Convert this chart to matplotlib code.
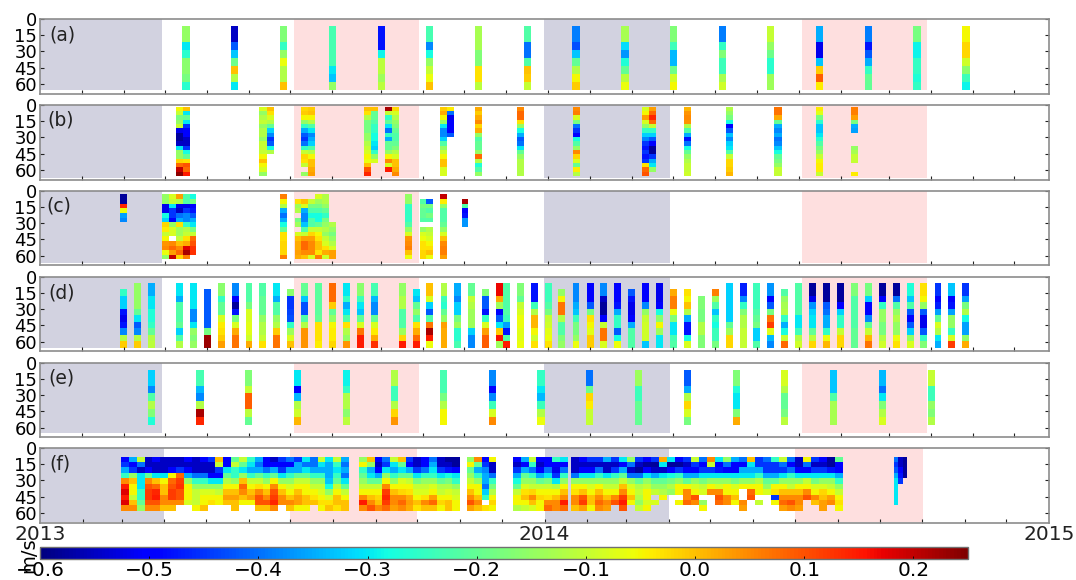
import numpy as np
import matplotlib
matplotlib.use("Agg")
import matplotlib.pyplot as plt
from matplotlib.cm import ScalarMappable
from matplotlib.colors import Normalize

n = np.nan

# all velocities below are in cm/s (divided by 100 when drawn), time in days since 2013-01-01
# panel (a)
a_days = [105.6, 141, 176.1, 211.5, 246.9, 282, 317.2, 352.6, 387.8, 423.2, 458.3, 493.7, 528.8, 564, 599.4, 634.5, 669.9]
a_vals = [
    [-15, -15, -30, -26, -16, -16, -18, -26],
    [-55, -55, -42, -33, -19, 0, -12, -30],
    [-17, -17, -25, -15, -6, -12, -12, 0],
    [-23, -23, -23, -23, -23, -30, -33, -15],
    [-48, -48, -48, -29, -11, -11, -14, -11],
    [-23, -23, -38, -28, -15, -10, -6, 0],
    [-13, -13, -13, -17, -17, -3, -3, -11],
    [-22, -22, -40, -40, -22, 0, -1, -10],
    [-39, -39, -43, -33, -20, -12, -5, -1],
    [-13, -13, -31, -37, -27, -20, -11, -6],
    [-17, -17, -24, -34, -34, -19, -9, -5],
    [-39, -39, -25, -17, -24, -24, -13, -9],
    [-10, -10, -15, -19, -26, -26, -14, -14],
    [-35, -35, -52, -52, -33, -1, 9, -4],
    [-39, -39, -48, -42, -35, -25, -20, -20],
    [-18, -18, -29, -29, -25, -25, -27, -25],
    [-5, -5, -2, -2, -9, -16, -24, -29],
]

# panel (b)
b_days = [100.7, 106, 161.3, 166.6, 191.2, 196.4, 237.1, 242, 252, 257.2, 292.1, 297.1, 317.3, 347.4,
          387.9, 438.2, 443.2, 468.6, 498.8, 533.9, 564.1, 589.3]
b_vals = [
    [-5, -10, -18, -15, -10, -52, -58, -58, -55, -30, -15, -15, -2, 8, 20, 24],
    [0, -30, -20, -30, -45, -50, -50, -55, -55, -45, -28, -20, -3, 10, 8, 15],
    [-8, -15, -12, -10, -15, -12, -12, -15, -10, -10, -10, -5, 0, -5, -8, -15],
    [0, -3, -8, -12, -20, -32, -38, -45, -42, -28, -12, n, n, n, n, n],
    [-2, -1, -5, -15, -25, -35, -42, -45, -40, -25, -10, -2, -3, -10, n, -15],
    [-1, 0, -5, -12, -22, -30, -38, -35, -32, -22, -12, -5, 0, 0, 2, 3],
    [0, -3, -12, -18, -18, -18, -15, -15, -12, -10, -8, -5, -6, 0, 10, 14],
    [0, -20, -20, -22, -25, -25, -28, -28, -30, -32, -25, -15, -8, n, n, n],
    [22, -10, -25, -20, -30, -40, -25, -35, -20, -20, -15, -5, 5, -8, 15, n],
    [-2, -8, -12, -15, -17, -20, -22, -22, -20, -17, -12, -8, 0, 0, 2, 5],
    [-1, 2, -5, -15, -30, -38, -38, -32, -22, -15, -10, -5, 0, 0, -8, -8],
    [-4, -40, -52, -50, -50, -50, -42, n, n, n, n, n, n, n, n, n],
    [2, -1, 2, 5, -2, 2, -15, -22, -20, -20, -15, 8, -12, -27, -22, -15],
    [5, 8, 8, -3, -15, -28, -35, -42, -40, -30, -20, -15, -12, -12, -12, -12],
    [5, 6, -8, -18, -40, -45, -50, -28, -22, -15, 5, -2, -8, -20, -4, -12],
    [-8, -5, 3, -8, -15, -25, -32, -38, -45, -48, -45, -48, -45, -3, 8, 10],
    [3, 8, 14, 8, -10, -25, -32, -42, -50, -58, -58, -45, -35, -30, -15, n],
    [1, 4, 5, 4, -12, -22, -35, -48, -40, -28, -20, -15, -12, -10, -10, -9],
    [-12, -15, -18, -28, -50, -42, -33, -38, -32, -30, -22, -10, -2, -2, -1, 1],
    [7, 7, 2, -20, -35, -38, -35, -40, -38, -33, -28, -20, -18, -15, -10, -10],
    [-4, -7, -18, -26, -33, -33, -30, -26, -22, -18, -15, -10, -5, -4, -4, -10],
    [6, 6, 3, -18, -35, -36, n, n, n, -15, -13, -10, -10, n, n, -4],
]

# panel (c)
c_days = [60.3, 90.7, 95.7, 100.7, 105.7, 110.7, 176.2, 186.7, 191.6, 196.6, 201.6, 206.6, 211.6,
          266.9, 277.1, 282.1, 292.1, 307.5]
c_vals = [
    [-58, -58, 14, -6, -36, -38, n, n, n, n, n, n, n, n],
    [-15, -15, -52, -52, -28, -32, -2, -4, -10, -5, 4, 5, -6, -15],
    [-8, -10, -30, -45, -45, -50, -15, -8, -8, n, 5, 8, 3, 20],
    [3, -12, -52, -55, -40, -35, -3, -14, -14, -10, 0, 5, 8, -2],
    [-22, -22, -52, -45, -38, -38, -25, -12, -10, -3, 2, 18, 22, 6],
    [-28, -18, -50, -48, -42, -35, -30, -18, -10, 8, 10, 13, 13, n],
    [6, -5, -12, -35, -40, -35, -28, -20, -3, -3, -2, -2, -2, 6],
    [n, -3, -14, -12, n, -18, -14, n, -8, 0, 2, 2, 3, 2],
    [n, 0, -8, -35, -38, -38, -33, -22, -10, 3, 8, 8, 5, 0],
    [n, -10, -18, -22, -28, -22, -22, -10, -2, 3, 5, 5, 5, -8],
    [-8, -14, -18, -22, -28, -28, -20, -10, -5, -3, 0, 0, -3, 6],
    [-12, -12, -15, -20, -25, -18, -15, -12, -15, -10, -8, -3, 2, -9],
    [n, n, n, n, n, n, -12, -15, -18, -15, -12, -8, 3, 3],
    [-15, -15, -25, -25, -25, -25, -22, -15, -8, 4, 5, 6, 0, -6],
    [n, -22, -18, -20, -20, -22, n, -15, -8, -6, -3, -3, -2, -2],
    [n, -42, -18, -22, -18, -22, n, -12, -10, -8, -5, -3, 0, -6],
    [20, -4, -15, -22, -22, -22, -20, -15, -8, 0, 5, 6, 6, 3],
    [n, 22, -22, -50, -48, -37, -37, n, n, n, n, n, n, n],
]

# panel (d)
d_days = [60.3, 70.5, 80.7, 100.6, 110.9, 121.1, 131, 141.3, 151.2, 161.2, 171.4, 181.4, 191.3, 201.6, 211.5,
          221.7, 231.7, 241.9, 262.1, 272.1, 282, 292.3, 302.2, 312.4, 322.4, 332.4, 337.6, 347.6, 357.6,
          367.6, 377.6, 387.8, 398, 408, 418, 428, 438, 448, 458.3, 468.5, 478.5, 488.5, 498.7, 508.7,
          518.6, 528.8, 538.8, 549, 559, 569.2, 579.2, 589.4, 599.4, 609.4, 619.6, 629.6, 639.5, 649.7,
          659.7, 669.6]
d_vals = [
    [n, -25, -32, -32, -48, -52, -48, -38, -12, -1],
    [-15, -15, -15, -15, -20, -30, -42, -38, -12, -1],
    [-35, -35, -30, -30, -27, -27, -25, -20, -12, -11],
    [-30, -30, -35, -22, -22, -22, -20, -32, -22, -12],
    [-30, -30, -30, -30, -38, -38, -30, -15, -17, -15],
    [n, -42, -42, -42, -42, -42, -42, -18, 23, 23],
    [-16, -16, -25, -20, -20, -8, -4, -3, -1, 3],
    [-38, -38, -50, -58, -48, -18, -8, 2, 7, 7],
    [-22, -22, -22, -18, -8, -8, -7, -7, -9, 2],
    [-22, -22, -20, -20, -20, -15, -12, -12, -10, -3],
    [-30, -30, -35, -22, -22, -15, -12, -1, 7, 7],
    [n, -16, -45, -45, -44, -43, -25, -14, -8, 0],
    [-20, -20, -33, -43, -43, -22, -12, 4, 4, 4],
    [-21, -21, -21, -21, -21, -20, -3, -3, -3, -4],
    [8, 8, 8, -1, -20, -15, -5, -4, -4, -2],
    [-30, -30, -25, -35, -30, -22, -3, -12, -15, 4],
    [-16, -16, -24, -30, -33, -20, -8, 7, 15, 15],
    [-23, -23, -34, -38, -38, -20, -8, -4, 2, 13],
    [-15, -15, -12, -12, -22, -22, -22, -14, -2, 15],
    [n, -30, -33, -20, -15, -22, -3, 2, 8, 15],
    [0, 0, -8, -32, -42, -22, 7, 22, 15, -6],
    [-12, -12, -24, -26, -20, -15, 3, 2, 2, 2],
    [-35, -35, -38, -32, -32, -18, -14, -26, -26, -23],
    [-20, -20, -10, -12, -14, -14, -14, -32, -38, -38],
    [n, -17, -42, -42, -48, -25, -8, 3, 9, 9],
    [17, 17, 2, -14, -50, -42, -30, -1, 16, -14],
    [-22, -22, -22, -22, -22, -24, -36, -48, -22, 15],
    [-17, -17, -20, -10, -8, -6, -6, -7, -7, -6],
    [-48, -48, -48, -24, -12, 1, 1, -5, -9, -3],
    [-24, -24, -24, -22, -18, -10, -9, -7, -6, -3],
    [n, -15, -5, 7, 7, -12, -22, -22, -17, -15],
    [-38, -38, -38, -35, -33, -24, -18, -18, -15, -6],
    [-50, -50, -50, -42, -18, -3, -5, -7, -1, -1],
    [-38, -38, -55, -58, -58, -50, -10, 7, 7, -8],
    [-50, -50, -50, -48, -35, -25, -25, -42, -28, -6],
    [n, -42, -48, -52, -52, -50, -35, -22, -22, -22],
    [-50, -50, -50, -38, -15, -10, -9, -9, -9, -33],
    [-52, -52, -52, -50, -28, -16, -5, -14, -30, -30],
    [n, 2, 6, 6, -6, -17, -30, -30, -23, -22],
    [n, -3, -5, 0, -12, -35, -48, -48, -28, -8],
    [n, n, -17, -17, -18, -18, -12, -12, -17, -17],
    [n, 6, -14, -22, -33, -25, -28, -24, -24, -18],
    [-32, -32, -32, -32, -32, -32, -20, -14, -2, -2],
    [-47, -47, -38, -25, -17, -12, -12, -10, -10, -10],
    [-24, -24, -24, -24, -22, -20, -18, -32, -32, -22],
    [-37, -37, -50, -42, -18, 7, 12, -7, -34, -38],
    [n, -22, -15, -13, -12, -25, -35, -28, -10, 8],
    [-22, -22, -22, -22, -22, -30, -30, -24, -12, -9],
    [-58, -58, -52, -37, -32, -30, -30, -20, -11, -2],
    [-58, -58, -58, -42, -40, -35, -35, -25, -6, 1],
    [-58, -58, -58, -50, -32, -25, -25, -10, -2, -2],
    [-17, -17, -22, -22, -22, -22, -22, -20, -20, -20],
    [-18, -18, -32, -50, -50, -38, -20, -10, 1, 7],
    [-58, -58, -50, -25, -15, -15, -18, -18, -12, -9],
    [-58, -58, -40, -22, -15, -12, -15, -15, -6, -3],
    [-27, -27, -33, -22, -42, -50, -42, -32, -15, -8],
    [-3, -3, -5, -15, -42, -52, -52, -42, -25, -17],
    [-45, -45, -50, -47, -36, -20, -8, -12, -30, -35],
    [-33, -33, -50, -48, -36, -15, -15, -25, -8, 12],
    [-45, -45, -36, -18, -12, -28, -36, -36, -16, 2],
]

# panel (e)
e_days = [80.7, 115.8, 151, 186.4, 221.5, 256.6, 292, 327.4, 362.4, 397.8, 433.2, 468.5, 503.7, 538.8, 574.2, 609.3, 644.7]
e_vals = [
    [-32, -32, -38, -22, -12, -17, -27],
    [-23, -23, -34, -38, -12, 22, 14],
    [-17, -17, -10, 9, 9, -11, -20],
    [-30, -30, -50, -34, -12, -9, 1],
    [-29, -29, -25, -12, -12, -16, -11],
    [-12, -12, -24, -24, -12, -2, 4],
    [-23, -23, -23, -18, -12, -5, -5],
    [-38, -38, -50, -38, -24, -8, 5],
    [-25, -25, -30, -34, -24, -12, -6],
    [-40, -40, -19, -2, -4, -10, -10],
    [-14, -14, -24, -24, -20, -20, -20],
    [-42, -42, -35, -12, -2, -8, -18],
    [-17, -17, -27, -30, -30, -17, 2],
    [-8, -8, -12, -20, -20, -18, -11],
    [-33, -33, -33, -22, -13, -13, -13],
    [-34, -34, -40, -30, -17, -12, -8],
    [-10, -10, -24, -24, -15, -17, -12],
]

# panel (f), mooring record in separate pieces (start day, end day, columns)
f1_span = [58.6, 223.6]
f1_vals = [
    [-50, -45, -35, -25, 5, 15, 18, 15, 18, 5],
    [-35, -50, -45, -15, 0, -5, -5, -10, 0, 5],
    [-10, -40, -55, -30, -30, -30, -25, -25, -20, -15],
    [-55, -55, -50, -20, 5, 10, 12, 12, 10, 5],
    [-50, -55, -55, -30, 0, 8, 14, 15, 10, 5],
    [-55, -55, -55, -30, -5, 0, 0, 5, 5, 0],
    [-55, -55, -50, -5, 8, 10, 12, 12, 5, 0],
    [-55, -55, -45, 8, 12, 13, 10, 10, 5, n],
    [-50, -55, -50, -35, -15, -5, -5, -5, -8, n],
    [-55, -55, -55, -40, -25, -15, -10, -10, -10, -5],
    [-50, -55, -55, -40, -25, -15, -8, -5, -5, 0],
    [-45, -55, -55, -50, -30, -15, -8, -5, -3, n],
    [0, -10, -45, -50, -30, -15, -10, -5, -5, n],
    [-50, -50, -30, -20, -12, -5, 0, 3, 0, n],
    [-20, -10, -25, -25, -15, -5, 0, 3, 0, 0],
    [-10, -20, -30, -15, 0, 8, 5, 0, -5, n],
    [-25, -30, -35, -25, -10, -5, 0, 3, -5, n],
    [-35, -40, -35, -20, -10, -3, 5, 10, 10, 0],
    [-50, -50, -40, -25, -15, -5, 0, 5, 10, 0],
    [-55, -50, -35, -20, -5, 5, 10, 12, 14, 5],
    [-45, -50, -45, -30, -15, -5, 0, 5, 5, n],
    [-40, -50, -35, -25, -15, -8, -5, 0, 5, 0],
    [-45, -35, -35, -20, -10, -5, 0, 3, 3, -5],
    [-30, -40, -30, -20, -10, -5, -5, 0, 0, -5],
    [-40, -40, -35, -25, -15, -10, -5, -3, 0, n],
    [-10, -30, -35, -25, -15, -10, -8, -5, -3, -5],
    [-30, -35, -35, -35, -33, -28, -15, -8, -3, 0],
    [-10, -25, -30, -25, -20, -10, -5, 0, 0, -3],
    [-35, -40, -35, -40, -30, -20, -10, -5, 0, 0],
]
f2_span = [230.8, 303.9]
f2_vals = [
    [-15, -5, -25, -20, -15, -10, -5, 5, 15, 5],
    [0, -15, -35, -30, -20, -10, -5, 0, 5, 10],
    [-50, -55, -50, -35, -20, -10, -5, -2, 0, 5],
    [-40, -45, -30, -15, -5, 5, 12, 14, 12, 8],
    [-10, -30, -35, -25, -15, -5, 0, 5, 5, 3],
    [0, -20, -30, -20, -8, -5, -2, 5, 8, 5],
    [-45, -50, -35, -20, -10, -5, -3, 2, 3, 2],
    [-55, -55, -45, -30, -18, -10, -8, -5, 0, -3],
    [-50, -50, -40, -25, -15, -10, -8, -3, 5, 0],
    [-40, -35, -30, -25, -15, -8, -5, 3, 8, 0],
    [-55, -55, -45, -30, -20, -12, -10, -5, -2, -5],
    [-58, -55, -48, -28, -18, -12, -8, -5, 0, 0],
    [-58, -58, -50, -30, -25, -15, -10, -8, -5, -5],
]
f3_span = [309, 330]
f3_vals = [
    [-15, -5, -20, -15, -10, -5, 0, 5, 10, 3],
    [5, -20, -35, -25, -15, -5, -5, 0, 5, 0],
    [-50, -45, -38, -35, -35, -40, -32, -25, n, -3],
    [-5, -55, -55, -40, -25, -18, -12, -5, -2, -5],
]
f4_span = [342, 382]
f4_vals = [
    [-50, -55, -45, -35, -28, -20, -10, -5, -5, -12],
    [-35, -50, -35, -20, -15, -8, -3, 0, -5, -10],
    [-10, -25, -40, -25, -15, -10, -2, 5, 0, -8],
    [-50, -55, -50, -35, -20, -10, -5, -2, -5, -5],
    [-50, -50, -40, -30, -18, -10, -5, -3, 5, 8],
    [-25, -50, -52, -45, -30, -12, -5, 0, 5, 5],
    [-30, -50, -40, -25, -15, -5, 0, 5, 15, 8],
]
f5_span = [384, 580.8]
f5_vals = [
    [-55, -55, -55, -40, -15, -5, -3, 5, 5, 0],
    [-50, -55, -50, -30, -15, -5, 0, 10, 12, 3],
    [-45, -55, -50, -30, -15, -8, -5, 0, 0, -5],
    [-45, -55, -40, -25, -15, -5, 0, 5, 8, 5],
    [-35, -55, -55, -30, -15, -10, -5, 0, 5, 3],
    [-45, -55, -45, -25, -15, -10, -5, 5, 10, n],
    [-30, -50, -35, -20, -10, 0, 5, 12, 15, 10],
    [-15, -40, -55, -40, -15, -8, -5, 0, -5, n],
    [-45, -55, -58, -40, -20, -12, -10, -12, -15, -10],
    [-50, -58, -50, -30, -15, -10, -5, -5, -8, -5],
    [-45, -58, -55, -35, -20, -15, -10, n, -8, n],
    [2, -30, -55, -30, -20, -15, -12, -5, n, n],
    [-30, -58, -50, -28, -18, -12, -15, n, n, n],
    [-50, -58, -45, -25, -15, -5, -5, n, -5, n],
    [-45, -55, -50, -35, -20, -5, 5, 5, 8, n],
    [-10, -45, -50, -35, -15, -8, -5, 10, 5, n],
    [-40, -50, -45, -30, -18, -10, -8, n, -15, -5],
    [5, -10, -45, -30, -15, -5, 5, n, n, n],
    [-30, -50, -48, -30, -15, -8, 5, 10, 8, n],
    [-15, -40, -50, -30, -15, -5, -5, 5, 5, n],
    [-35, -50, -50, -30, -18, -8, -5, 0, -5, n],
    [-40, -50, -35, -30, -15, -5, n, n, 5, 3],
    [0, -30, -35, -30, -15, -5, 8, 10, n, n],
    [-45, -45, -35, -25, -12, -5, -5, n, -10, n],
    [-40, -45, -45, -35, -20, -15, -8, n, n, n],
    [-25, -45, -45, -35, -20, -5, -3, -45, -5, n],
    [-10, -40, -45, -30, -15, -5, 0, 5, 8, 3],
    [-40, -50, -40, -25, -15, -10, 0, 5, 10, 5],
    [-55, -55, -50, -30, -15, -5, 0, 5, 5, 3],
    [-5, -40, -50, -30, -10, -5, 5, 10, n, n],
    [-45, -55, -45, -30, -18, -8, -5, 5, 0, n],
    [-50, -55, -45, -30, -15, -8, -2, 0, 3, 3],
    [-58, -58, -48, -30, -15, -10, -5, 3, 5, n],
    [-20, -50, -50, -35, -25, -15, -10, -5, -3, -5],
]
f6_span = [617.8, 627.6]
f6_vals = [
    [-40, -45, -42, -35, -30, -30, -30, -30, -30, n],
    [-55, -55, -50, -48, -45, n, n, n, n, n],
    [-58, -58, -58, -58, n, n, n, n, n, n],
]

depth_ticks = [0, 15, 30, 45, 60]
panel_names = ["(a)", "(b)", "(c)", "(d)", "(e)", "(f)"]
year_days = [0, 365, 730]
year_labels = ["2013", "2014", "2015"]
month_ticks = [30.4, 60.8, 90.7, 121.1, 151, 181.1, 211.5, 246.9, 276.8, 307, 337.4, 367.6, 398, 428.2, 458.1,
               488.5, 518.6, 549, 579.2, 614.3, 644.5, 674.9, 704.8]
month_ticks_f = [31, 59, 90, 120, 151, 181, 212, 243, 273, 304, 334, 365, 396, 424, 455, 485, 516, 546, 577,
                 608, 638, 669, 699]
winter = [(0, 88), (364.7, 455.6)]
summer = [(184, 274.5), (551, 642)]
winter_f = [(0, 90), (365, 455)]
summer_f = [(181, 273), (546, 639)]
cbar_ticks = [-0.6, -0.5, -0.4, -0.3, -0.2, -0.1, 0.0, 0.1, 0.2]

W, H = 1076, 580
norm = Normalize(-0.6, 0.25)
cmap = plt.get_cmap("jet")


def px_axes(left, top, right, bottom):
    return fig.add_axes([left / W, 1 - bottom / H, (right - left) / W, (bottom - top) / H])


def draw_columns(ax, days, vals, top, bottom, width=5.2):
    vals = np.array(vals, dtype=float) / 100
    edges = np.linspace(top, bottom, vals.shape[1] + 1)
    for day, col in zip(days, vals):
        ax.pcolormesh([day - width / 2, day + width / 2], edges, col[:, None], cmap=cmap, norm=norm,
                      shading="flat", linewidth=0)


def draw_block(ax, span, vals, top=8, bottom=58):
    vals = np.array(vals, dtype=float) / 100
    t = np.linspace(span[0], span[1], vals.shape[0] + 1)
    z = np.linspace(top, bottom, vals.shape[1] + 1)
    ax.pcolormesh(t, z, vals.T, cmap=cmap, norm=norm, shading="flat", linewidth=0)


fig = plt.figure(figsize=(W / 100, H / 100), dpi=100)

tops = [19, 105, 190.7, 276.7, 362.7, 448]
bottoms = [94, 180, 265, 350.7, 437, 523]
shade_ends = [65.3, 67.4, 66.5, 65.5, 64.9, 68]
label_depth = [14.8, 13.8, 14.5, 15, 14, 14.8]
label_days = [7, 5.5, 4.5, 6, 6, 6.5]

axes = []
for i in range(6):
    ax = px_axes(40, tops[i], 1049, bottoms[i])
    axes.append(ax)
    wn, sm = (winter_f, summer_f) if i == 5 else (winter, summer)
    for d0, d1 in wn:
        ax.fill_between([d0, d1], 0, shade_ends[i], color="#d2d2e0", lw=0, zorder=0)
    for d0, d1 in sm:
        ax.fill_between([d0, d1], 0, shade_ends[i], color="#fedfdf", lw=0, zorder=0)
    ax.set_yticks(depth_ticks)
    ax.set_xticks(month_ticks_f if i == 5 else month_ticks)
    ax.set_xticklabels([])
    ax.tick_params(axis="both", direction="in", length=3, width=0.8, color="#222222", right=True, labelsize=13, pad=2)
    ax.tick_params(axis="x", bottom=True, top=False)
    for s in ax.spines.values():
        s.set_color("#8c8c8c")
        s.set_linewidth(1.2)
    ax.text(label_days[i], label_depth[i], panel_names[i], fontsize=13.5, ha="left", va="center", color="#222222")

draw_columns(axes[0], a_days, a_vals, 6.5, 65.3)
draw_columns(axes[1], b_days, b_vals, 1.5, 65.5)
draw_columns(axes[2], c_days, c_vals, 3.4, 63.5, width=5)
draw_columns(axes[3], d_days, d_vals, 5.5, 65.5, width=5)
draw_columns(axes[4], e_days, e_vals, 6.5, 57.5)

for span, vals in [(f1_span, f1_vals), (f2_span, f2_vals), (f3_span, f3_vals),
                   (f4_span, f4_vals), (f5_span, f5_vals), (f6_span, f6_vals)]:
    draw_block(axes[5], span, vals)

for i, ax in enumerate(axes):
    ax.set_xlim(0, 730)
    ax.set_ylim((bottoms[i] - tops[i]) / 1.083, 0)

# year labels under the last panel
for d, lab in zip(year_days, year_labels):
    axes[5].annotate(lab, (d, 0), xycoords=("data", "axes fraction"), xytext=(0, -12), textcoords="offset pixels",
                     ha="center", va="center", fontsize=14.5, annotation_clip=False, color="#222222")

cax = px_axes(40, 546.5, 968, 558.5)
cb = fig.colorbar(ScalarMappable(norm=norm, cmap=cmap), cax=cax, orientation="horizontal")
cb.set_ticks(cbar_ticks)
cb.ax.tick_params(direction="in", length=2, width=0.6, labelsize=14.5, pad=2)
cb.outline.set_edgecolor("#707070")
cb.outline.set_linewidth(1.0)
fig.text(29 / W, 1 - 555 / H, "m/s", rotation=90, ha="center", va="center", fontsize=14)

fig.savefig("out.png", dpi=100, facecolor="white")
